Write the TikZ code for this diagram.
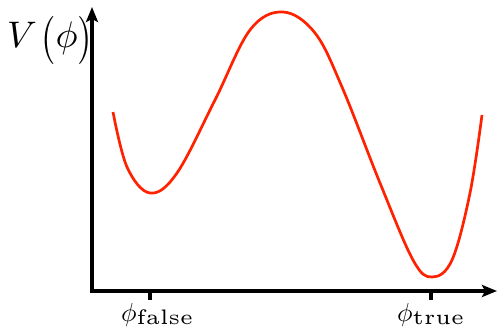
\documentclass[tikz,border=0pt]{standalone}
\usepackage{graphicx}
\usetikzlibrary{arrows.meta}
\definecolor{curvered}{RGB}{255,34,0}
\newcommand{\tallparen}[1]{\raisebox{-1.2pt}{\scalebox{1}[1.3]{$#1$}}}
\newcommand{\sublabel}[1]{\raisebox{-3pt}{\scalebox{4.2}{\tiny #1}}}
\begin{document}
\begin{tikzpicture}[x=1pt,y=-1pt,
  axis/.style={line width=3.2pt,-{Stealth[length=15pt,width=12pt,inset=3pt]}},
  tickmark/.style={line width=3.2pt},
  potential/.style={curvered,line width=2.7pt,line join=round},
  lab/.style={inner sep=0pt}]
\useasboundingbox (0,0) rectangle (498,329);
\coordinate (O) at (92,291);
\coordinate (Ytop) at (92,7);
\coordinate (Xend) at (497,291);
\coordinate (Fa) at (150,291);
\coordinate (Fb) at (150,300);
\coordinate (Ta) at (431,291);
\coordinate (Tb) at (431,300);
\draw[axis] (O) -- (Ytop);
\draw[axis] ([xshift=-1.6pt]O) -- (Xend);
\draw[tickmark] (Fa) -- (Fb);
\draw[tickmark] (Ta) -- (Tb);
\node[lab,anchor=base west] (V) at (7,48) {\scalebox{3.7}{$V\mkern2mu\tallparen{(}\phi\tallparen{)}$}};
\node[lab,anchor=base west] (lf) at (121,321) {\scalebox{2.6}{$\phi$}\sublabel{false}};
\node[lab,anchor=base west] (lt) at (397,321) {\scalebox{2.6}{$\phi$}\sublabel{true}};
\draw[potential] plot[smooth,tension=0.6] coordinates {
(113,112) (127,167) (150,193) (177,173) (215,100) (250,30) (283,12) (315,33) (342,87) (380,183) (413,260) (432,277) (452,260) (470,193) (482,115)};
\end{tikzpicture}
\end{document}
